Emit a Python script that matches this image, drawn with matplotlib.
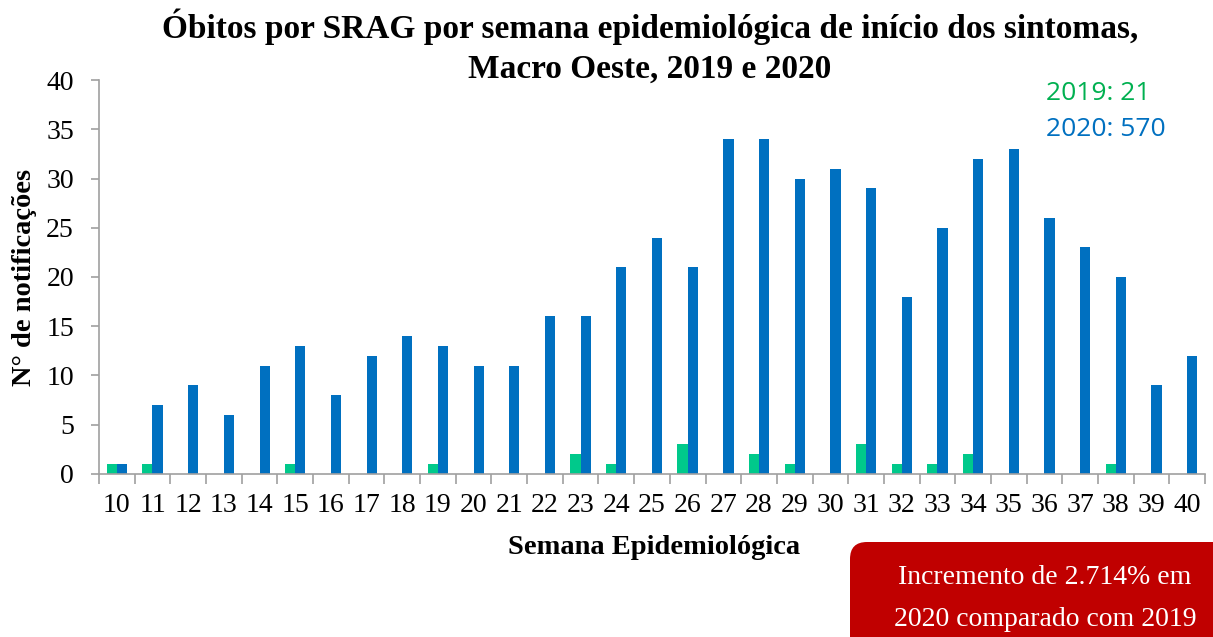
import matplotlib
matplotlib.use("Agg")
import matplotlib.pyplot as plt
import numpy as np
from matplotlib.patches import FancyBboxPatch

weeks = list(range(10, 41))
deaths_2019 = [1, 1, 0, 0, 0, 1, 0, 0, 0, 1, 0, 0, 0, 2, 1, 0, 3, 0, 2, 1, 0, 3, 1, 1, 2, 0, 0, 0, 1, 0, 0]
deaths_2020 = [1, 7, 9, 6, 11, 13, 8, 12, 14, 13, 11, 11, 16, 16, 21, 24, 21, 34, 34, 30, 31, 29, 18, 25, 32, 33, 26, 23, 20, 9, 12]
total_2019 = 21
total_2020 = 570

title_lines = ["Óbitos por SRAG por semana epidemiológica de início dos sintomas,",
               "Macro Oeste, 2019 e 2020"]
xlabel = "Semana Epidemiológica"
ylabel = "N° de notificações"
note_lines = ["Incremento de 2.714% em", "2020 comparado com 2019"]

serif = ["Liberation Serif", "DejaVu Serif"]
green = "#00C98B"
blue = "#0070C0"

fig = plt.figure(figsize=(12.13, 6.37), dpi=100)
ax = fig.add_axes([0.0816, 0.2559, 0.9118, 0.6185])

x = np.arange(len(weeks))
w = 0.285
ax.bar(x - w / 2, deaths_2019, width=w, color=green)
ax.bar(x + w / 2, deaths_2020, width=w, color=blue)

ax.set_xlim(-0.5, len(weeks) - 0.5)
ax.set_ylim(0, 40)
ax.set_yticks(range(0, 41, 5))
ax.set_xticks(x)
ax.set_xticklabels([str(v) for v in weeks], fontfamily=serif, fontsize=20)
ax.set_xticks(np.arange(-0.5, len(weeks), 1), minor=True)
ax.tick_params(axis="x", which="major", length=0, pad=14)
ax.tick_params(axis="x", which="minor", length=7, color="#A0A0A0", width=1.2)
ax.tick_params(axis="y", length=6, color="#A0A0A0", width=1.2, labelsize=20, pad=12)
for lab in ax.get_yticklabels():
    lab.set_fontfamily(serif)

for s in ["top", "right"]:
    ax.spines[s].set_visible(False)
for s in ["left", "bottom"]:
    ax.spines[s].set_color("#A0A0A0")
    ax.spines[s].set_linewidth(1.2)

fig.text(654 / 1213, 1 - 548 / 637, xlabel, ha="center", va="center", fontfamily=serif,
         fontsize=20.5, fontweight="bold")
fig.text(25 / 1213, 1 - 277 / 637, ylabel, ha="center", va="center", rotation=90,
         fontfamily=serif, fontsize=20.5, fontweight="bold")

for line, base in zip(title_lines, [38, 78]):
    fig.text(650 / 1213, 1 - base / 637, line, ha="center", va="baseline", fontfamily=serif,
             fontsize=24, fontweight="bold")

fig.text(0.862, 1 - 93 / 637, f"2019: {total_2019}", color="#00B050", fontsize=19,
         fontfamily=["Open Sans", "DejaVu Sans"], va="center", ha="left")
fig.text(0.862, 1 - 130 / 637, f"2020: {total_2020}", color=blue, fontsize=19,
         fontfamily=["Open Sans", "DejaVu Sans"], va="center", ha="left")

box = FancyBboxPatch((850 / 1213, -0.05), 0.4, 1 - 542 / 637 + 0.05,
                     boxstyle="round,pad=0,rounding_size=0.014",
                     transform=fig.transFigure, facecolor="#C00000", edgecolor="none",
                     mutation_aspect=1213 / 637)
fig.add_artist(box)
for line, yc in zip(note_lines, [578, 620]):
    fig.text(1045 / 1213, 1 - yc / 637, line, color="white", ha="center", va="center",
             fontfamily=serif, fontsize=20)

fig.savefig("out.png", dpi=100)
